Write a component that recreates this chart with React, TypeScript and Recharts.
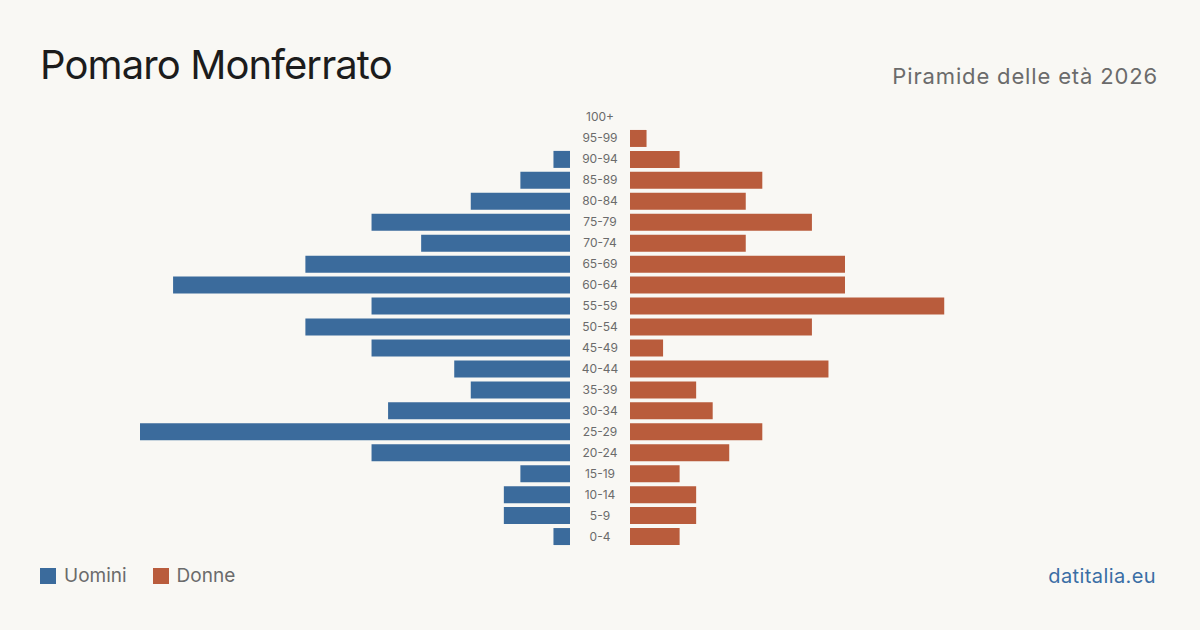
import React from 'react';
import { BarChart, Bar, XAxis, YAxis } from 'recharts';

const ageGroups = ['100+','95-99','90-94','85-89','80-84','75-79','70-74','65-69','60-64','55-59','50-54','45-49','40-44','35-39','30-34','25-29','20-24','15-19','10-14','5-9','0-4'];
const maleValues = [0,0,1,3,6,12,9,16,24,12,16,12,7,6,11,26,12,3,4,4,1];
const femaleValues = [0,1,3,8,7,11,7,13,13,19,11,2,12,4,5,8,6,3,4,4,3];
const maxValue = 26;

const data = ageGroups.map((age, i) => ({ age, m: maleValues[i], f: femaleValues[i] }));

const BLUE = '#3b6b9c';
const ORANGE = '#b95c3c';
const FONT = 'Inter, "Noto Sans", sans-serif';

const AgeTick = (props: any) => {
  const { y, payload } = props;
  return (
    <text x={30} y={y} dy={4} textAnchor="middle" fontSize={12} fill="#6b6b6b" fontFamily={FONT}>
      {payload.value}
    </text>
  );
};

export default function App() {
  return (
    <div style={{ position: 'absolute', left: 0, top: 0, width: 1200, height: 630, background: '#f9f8f4', fontFamily: FONT, overflow: 'hidden' }}>
      <div style={{ position: 'absolute', left: 40, top: 40, fontSize: 40, color: '#1c1c1c', lineHeight: '50px', letterSpacing: -0.9 }}>Pomaro Monferrato</div>
      <div style={{ position: 'absolute', right: 42, top: 62, fontSize: 22, color: '#6b6b6b', lineHeight: '28px', letterSpacing: 0.85 }}>Piramide delle età 2026</div>

      <div style={{ position: 'absolute', left: 140, top: 106.5 }}>
        <BarChart width={430} height={440} data={data} layout="vertical" margin={{ top: 0, right: 0, bottom: 0, left: 0 }}>
          <XAxis type="number" domain={[0, maxValue]} reversed hide />
          <YAxis type="category" dataKey="age" hide />
          <Bar dataKey="m" fill={BLUE} barSize={17} isAnimationActive={false} />
        </BarChart>
      </div>

      <div style={{ position: 'absolute', left: 570, top: 106.5 }}>
        <BarChart width={490} height={440} data={data} layout="vertical" margin={{ top: 0, right: 0, bottom: 0, left: 0 }}>
          <XAxis type="number" domain={[0, maxValue]} hide />
          <YAxis type="category" dataKey="age" width={60} axisLine={false} tickLine={false} tick={<AgeTick />} interval={0} />
          <Bar dataKey="f" fill={ORANGE} barSize={17} isAnimationActive={false} />
        </BarChart>
      </div>

      <div style={{ position: 'absolute', left: 40, top: 566, display: 'flex', alignItems: 'center', fontSize: 19, color: '#6b6b6b', lineHeight: '20px' }}>
        <span style={{ width: 16, height: 16, background: BLUE, display: 'inline-block', marginRight: 8 }} />
        <span>Uomini</span>
        <span style={{ width: 16, height: 16, background: ORANGE, display: 'inline-block', marginLeft: 26, marginRight: 8 }} />
        <span>Donne</span>
      </div>

      <div style={{ position: 'absolute', right: 44, top: 564, fontSize: 20, color: '#3a6ea5', lineHeight: '24px', letterSpacing: 0.4 }}>datitalia.eu</div>
    </div>
  );
}
